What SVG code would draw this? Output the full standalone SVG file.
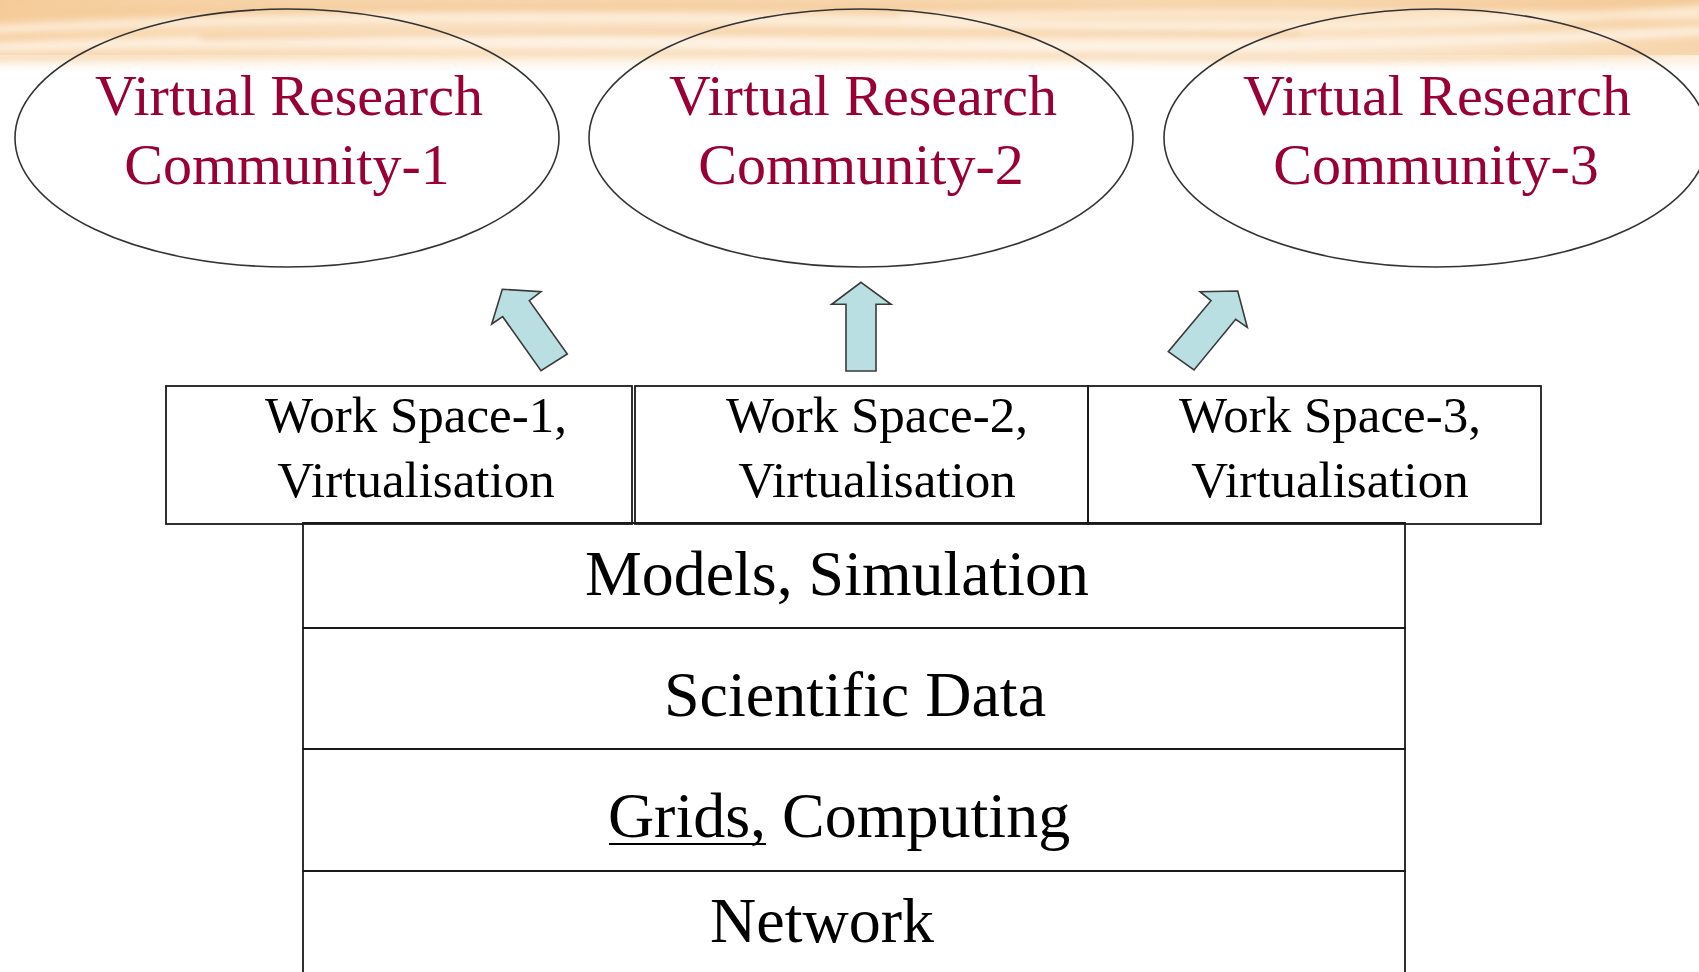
<svg xmlns="http://www.w3.org/2000/svg" width="1699" height="972" viewBox="0 0 1699 972">
<style>
.bg{fill:#ffffff}
.ell{fill:none;stroke:#333333;stroke-width:1.6}
.etxt{font-family:"Liberation Serif","Times New Roman",serif;font-size:58px;fill:#990033;text-anchor:middle}
.box{fill:none;stroke:#1a1a1a;stroke-width:1.8}
.wtxt{font-family:"Liberation Serif","Times New Roman",serif;font-size:51px;fill:#000000;text-anchor:middle}
.ltxt{font-family:"Liberation Serif","Times New Roman",serif;font-size:64px;fill:#000000;text-anchor:middle}
.arr{fill:#b9dfe2;stroke:#3a3a3a;stroke-width:1.6;stroke-linejoin:miter}
.uline{stroke:#000000;stroke-width:2.2}
</style>
<defs>
<linearGradient id="bandV" x1="0" y1="0" x2="0" y2="1">
<stop offset="0" stop-color="#f7d6ad"/>
<stop offset="0.55" stop-color="#fbe6cc"/>
<stop offset="0.85" stop-color="#fdf3e6"/>
<stop offset="1" stop-color="#ffffff"/>
</linearGradient>
<linearGradient id="bandH" x1="0" y1="0" x2="1" y2="0">
<stop offset="0" stop-color="#f3c184" stop-opacity="0.55"/>
<stop offset="0.3" stop-color="#f8dcb8" stop-opacity="0.15"/>
<stop offset="0.7" stop-color="#f8dcb8" stop-opacity="0.1"/>
<stop offset="1" stop-color="#f1bd7e" stop-opacity="0.45"/>
</linearGradient>
<filter id="blur" x="-10%" y="-100%" width="120%" height="300%">
<feGaussianBlur stdDeviation="3"/>
</filter>
<clipPath id="bandClip"><rect x="0" y="0" width="1699" height="72"/></clipPath>
</defs>
<rect class="bg" x="0" y="0" width="1699" height="972"/>
<g id="background-band" clip-path="url(#bandClip)">
<rect x="0" y="0" width="1699" height="72" fill="url(#bandV)"/>
<rect x="0" y="0" width="1699" height="55" fill="url(#bandH)"/>
<g filter="url(#blur)" opacity="0.7">
<path d="M-20 30 Q 400 10 900 22 T 1720 8" stroke="#fff6ea" stroke-width="8" fill="none"/>
<path d="M-20 48 Q 300 36 800 44 T 1720 30" stroke="#fff8ef" stroke-width="10" fill="none"/>
<path d="M-20 14 Q 500 2 1000 8 T 1720 -4" stroke="#f4c996" stroke-width="7" fill="none"/>
<path d="M-20 58 Q 600 50 1100 56 T 1720 46" stroke="#f6d3a8" stroke-width="6" fill="none"/>
<path d="M200 38 Q 700 28 1300 34" stroke="#f3c48e" stroke-width="4" fill="none"/>
<path d="M900 16 Q 1300 8 1720 18" stroke="#fff3e2" stroke-width="6" fill="none"/>
</g>
</g>

<g id="vrc-1">
<ellipse class="ell" cx="287" cy="138" rx="272" ry="129"/>
<text class="etxt" x="289" y="115">Virtual Research</text>
<text class="etxt" x="287" y="184">Community-1</text>
</g>
<g id="vrc-2">
<ellipse class="ell" cx="861" cy="138" rx="272" ry="129"/>
<text class="etxt" x="863" y="115">Virtual Research</text>
<text class="etxt" x="861" y="184">Community-2</text>
</g>
<g id="vrc-3">
<ellipse class="ell" cx="1436" cy="138" rx="272" ry="129"/>
<text class="etxt" x="1437" y="115">Virtual Research</text>
<text class="etxt" x="1436" y="184">Community-3</text>
</g>

<g id="connectors">
<polygon class="arr" points="502.3,289.3 541,291.7 529.3,300.7 567.3,354 541,370.7 502.7,316.7 491.7,324"/>
<polygon class="arr" points="861,282.3 891,304.3 876,304.3 876,371 846,371 846,304.3 831.7,304.3"/>
<polygon class="arr" points="1237.7,291 1247.3,327.3 1235.7,319.3 1194,370 1168.3,351.7 1211,300.7 1200,291.7"/>
</g>

<g id="workspace-1">
<rect class="box" x="166" y="386" width="466" height="138"/>
<text class="wtxt" x="416" y="432">Work Space-1,</text>
<text class="wtxt" x="416" y="497">Virtualisation</text>
</g>
<g id="workspace-2">
<rect class="box" x="635" y="386" width="453" height="138"/>
<text class="wtxt" x="877" y="432">Work Space-2,</text>
<text class="wtxt" x="877" y="497">Virtualisation</text>
</g>
<g id="workspace-3">
<rect class="box" x="1088" y="386" width="453" height="138"/>
<text class="wtxt" x="1330" y="432">Work Space-3,</text>
<text class="wtxt" x="1330" y="497">Virtualisation</text>
</g>

<g id="models-simulation">
<path class="box" d="M303 628 V523 H1405 V628 Z" stroke-width="2.2"/>
<text class="ltxt" x="837" y="595" textLength="504" lengthAdjust="spacingAndGlyphs">Models, Simulation</text>
</g>
<g id="scientific-data">
<path class="box" d="M303 628 H1405 V749 H303 Z"/>
<text class="ltxt" x="855" y="716">Scientific Data</text>
</g>
<g id="grids-computing">
<path class="box" d="M303 749 H1405 V871 H303 Z"/>
<text class="ltxt" x="839" y="837">Grids, Computing</text>
<line class="uline" x1="609" y1="844" x2="766" y2="844"/>
</g>
<g id="network">
<path class="box" d="M303 980 V871 H1405 V980"/>
<text class="ltxt" x="822" y="942">Network</text>
</g>
</svg>
